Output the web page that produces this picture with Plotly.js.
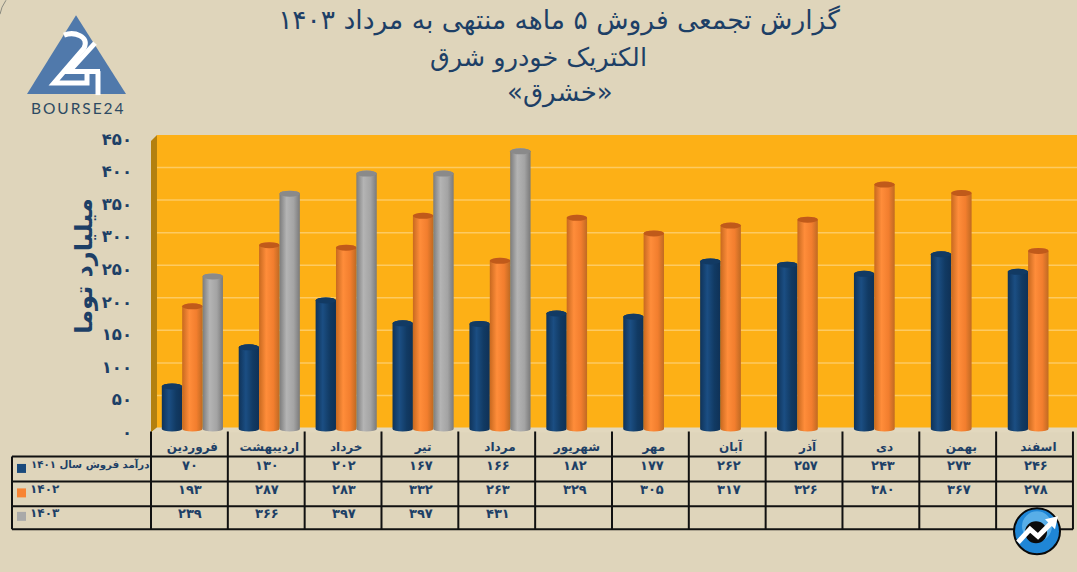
<!DOCTYPE html>
<html><head><meta charset="utf-8">
<script src="https://cdn.plot.ly/plotly-3.0.1.min.js"></script>
<style>html,body{margin:0;padding:0;background:#dfd5bb;overflow:hidden}</style>
</head><body><div id="chart" style="width:1077px;height:572px"></div>
<script>
const months = ['فروردین','اردیبهشت','خرداد','تیر','مرداد','شهریور','مهر','آبان','آذر','دی','بهمن','اسفند'];
const sales1401 = [70,130,202,167,166,182,177,262,257,243,273,246];
const sales1402 = [193,287,283,332,263,329,305,317,326,380,367,278];
const sales1403 = [239,366,397,397,431,null,null,null,null,null,null,null];
const seriesLabels = ['درآمد فروش سال ۱۴۰۱','۱۴۰۲','۱۴۰۳'];
const yTicks = [0,50,100,150,200,250,300,350,400,450];
const titleLines = ['گزارش تجمعی فروش ۵ ماهه منتهی به مرداد ۱۴۰۳','الکتریک خودرو شرق','«خشرق»'];
const yTitle = 'میلیارد توما';

const NAVY = '#1d3f66', FONT = '"DejaVu Sans", sans-serif';
const toFa = n => String(n).replace(/\d/g, d => '۰۱۲۳۴۵۶۷۸۹'[d]);
const L = 157, R = 1077, T = 139, B = 432.5;
const px = x => (x - L) / (R - L), py = y => (B - y) / (B - T);
const allSeries = [sales1401, sales1402, sales1403];
const seriesColors = ['#1a4a7c', '#f88434', '#a9a9a9'];

const traces = allSeries.map((v, i) => ({
  type: 'bar', name: i === 0 ? '۱۴۰۱' : seriesLabels[i], x: months, y: v,
  marker: {color: seriesColors[i], line: {width: 0}}, cliponaxis: false, hoverinfo: 'x+y+name'
}));

const shapes = [], annotations = [];
const line = (x0, y0, x1, y1, color, width, layer) => shapes.push({type: 'line', xref: 'paper', yref: 'paper', layer: layer || 'above',
  x0: px(x0), y0: py(y0), x1: px(x1), y1: py(y1), line: {color: color, width: width}});
const poly = (pts, fill, lineColor, w, closed = true, layer) => {
  const d = 'M' + pts.map(p => px(p[0]) + ',' + py(p[1])).join('L') + (closed ? 'Z' : '');
  shapes.push({type: 'path', xref: 'paper', yref: 'paper', layer: layer || 'above', path: d, fillcolor: fill || 'rgba(0,0,0,0)',
    line: {color: lineColor || 'rgba(0,0,0,0)', width: w || 0}});
};
const circle = (cx, cy, r, fill, lineColor, w) => shapes.push({type: 'circle', xref: 'paper', yref: 'paper',
  x0: px(cx - r), x1: px(cx + r), y0: py(cy + r), y1: py(cy - r), fillcolor: fill, line: {color: lineColor || fill, width: w || 0}});
const text = (x, y, t, size, opts = {}) => annotations.push(Object.assign({xref: 'paper', yref: 'paper', x: px(x), y: py(y),
  text: t, showarrow: false, xanchor: 'center', yanchor: 'middle', font: {family: FONT, size: size, color: NAVY}}, opts));

// back wall, its grid, side wall and floor
poly([[157,135],[1077,135],[1077,429],[157,429]], '#fdb016', null, 0, true, 'below');
yTicks.slice(1, -1).forEach(v => {
  const y = B - (B - T) * v / 450;
  line(157, y - 4, 1077, y - 4, '#fdca62', 1.5, 'below');
  line(151, y, 157, y - 4, '#e8c16a', 1, 'below');
});
poly([[151,141],[157,135],[157,428],[151,433]], '#b3800f', null, 0, true, 'below');
poly([[157,428],[1077,428],[1077,433],[151,433]], '#e2d8be', null, 0, true, 'below');

// table grid
const colX = i => 151 + i * 76.83;
[457, 482, 507, 530].forEach(y => line(12, y, 1073, y, '#111', 2));
line(12, 457, 12, 530, '#111', 2);
months.forEach((m, i) => line(colX(i), 432, colX(i), 530, '#111', 2));
line(colX(12), 432, colX(12), 530, '#111', 2);

// table values and row labels
const rowY = [466, 490.5, 514];
allSeries.forEach((vals, r) => {
  vals.forEach((v, i) => {
    if (v !== null) annotations.push({xref: 'x', yref: 'paper', x: months[i], xshift: -2, y: py(rowY[r]), text: '<b>' + toFa(v) + '</b>',
      showarrow: false, yanchor: 'middle', font: {family: FONT, size: 13, color: NAVY}});
  });
  poly([[17, rowY[r]-1.5],[26, rowY[r]-1.5],[26, rowY[r]+7.5],[17, rowY[r]+7.5]], seriesColors[r]);
  text(r === 0 ? 151 : 28, rowY[r] - 0.5, '<b>' + seriesLabels[r] + '</b>', r === 0 ? 10.2 : 12, {xanchor: r === 0 ? 'right' : 'left'});
});

// title lines 2, 3 and vertical axis caption
text(538, 57, titleLines[1], 25.5);
text(560, 92, titleLines[2], 26);
text(84, 266, '<b>' + yTitle + '</b>', 24, {textangle: -90});

// logo
poly([[76,15],[27,94],[126,94]], '#5079ab');
shapes.push({type: 'path', xref: 'paper', yref: 'paper',
  path: 'M' + px(64) + ',' + py(35) + 'C' + px(74) + ',' + py(31) + ' ' + px(90) + ',' + py(36) + ' ' + px(84) + ',' + py(48) +
        'L' + px(54) + ',' + py(83) + 'L' + px(87) + ',' + py(83) + 'L' + px(87) + ',' + py(73),
  fillcolor: 'rgba(0,0,0,0)', line: {color: '#fff', width: 5}});
poly([[95,43],[69,71.5],[100,71.5]], null, '#fff', 5, false);
line(98, 71, 98, 95, '#fff', 5);
text(76.5, 108, 'B\u2009O\u2009U\u2009R\u2009S\u2009E\u20092\u20094', 15, {font: {family: 'Lato, sans-serif', size: 15.5, color: '#2d4a63'}});

// corner mark
poly([[0,14],[2,7],[6,0]], null, '#8b8b80', 1, false);

// bottom-right badge
circle(1037, 532, 23, '#1f86d6', '#0a0a0a', 2);
circle(1037, 527, 15, '#58aee8');
circle(1036, 533, 11, '#0b0b0b');
poly([[1018,543],[1030,530],[1038,537],[1052,523]], null, '#fff', 5, false);
poly([[1058,517],[1045,520],[1055,530]], '#fff');

const layout = {
  width: 1077, height: 572, autosize: false,
  margin: {l: L, r: 1077 - R, t: T, b: 572 - B, pad: 0},
  paper_bgcolor: '#dfd5bb', plot_bgcolor: '#dfd5bb',
  barmode: 'group', bargap: 0.205, bargroupgap: 0, showlegend: false,
  title: {text: titleLines[0], x: 559 / 1077, xref: 'container', xanchor: 'center', y: 1 - 20 / 572, yref: 'container', yanchor: 'middle',
    font: {family: FONT, size: 26.5, color: NAVY}, automargin: false},
  xaxis: {type: 'category', categoryorder: 'array', categoryarray: months, range: [-0.46, 11.503], autorange: false,
    showgrid: false, zeroline: false, showline: false, ticks: '', ticklabelstandoff: 6, tickangle: 0,
    tickfont: {family: FONT, size: 12, color: NAVY, weight: 'bold'}},
  yaxis: {range: [0, 450], autorange: false, tickvals: yTicks, ticktext: yTicks.map(toFa), showline: false, ticks: '',
    ticklabelstandoff: 24, showgrid: false, zeroline: false,
    tickfont: {family: FONT, size: 16.5, color: NAVY, weight: 'bold'}},
  shapes: shapes, annotations: annotations
};

Plotly.newPlot('chart', traces, layout, {displayModeBar: false, responsive: false}).then(() => {
  // give the library's bars a cylindrical look
  const svg = document.querySelector('#chart .main-svg');
  const ns = 'http://www.w3.org/2000/svg';
  const defs = svg.querySelector('defs') || svg.insertBefore(document.createElementNS(ns, 'defs'), svg.firstChild);
  const stops = [['#0f3359','#1b4e83','#113a63','#0f3156'], ['#c8691f','#ff8d3a','#f27e2e','#c06a22'], ['#7c7c7c','#b4b4b4','#a4a4a4','#7a7a7a']];
  const caps = ['#123a63', '#c05a1a', '#8a8a8a'];
  stops.forEach((s, i) => {
    const g = document.createElementNS(ns, 'linearGradient');
    g.setAttribute('id', 'cyl' + i);
    [[0, s[0]], [0.35, s[1]], [0.7, s[2]], [1, s[3]]].forEach(p => {
      const st = document.createElementNS(ns, 'stop');
      st.setAttribute('offset', p[0]); st.setAttribute('stop-color', p[1]); g.appendChild(st);
    });
    defs.appendChild(g);
  });
  document.querySelectorAll('#chart .barlayer .trace').forEach((tr, i) => {
    tr.querySelectorAll('.point path').forEach(path => {
      const b = path.getBBox();
      if (!b.width || !b.height) return;
      const rx = b.width / 2, x0 = b.x, x1 = b.x + b.width, yt = b.y, yb = b.y + b.height - 3;
      path.setAttribute('d', `M${x0},${yt}V${yb}A${rx},2.5 0 0 0 ${x1},${yb}V${yt}A${rx},3 0 0 0 ${x0},${yt}Z`);
      path.style.setProperty('fill', `url(#cyl${i})`);
      const e = document.createElementNS(ns, 'ellipse');
      e.setAttribute('cx', x0 + rx); e.setAttribute('cy', yt); e.setAttribute('rx', rx); e.setAttribute('ry', 3);
      e.style.fill = caps[i];
      path.parentNode.appendChild(e);
    });
  });
});
</script></body></html>
